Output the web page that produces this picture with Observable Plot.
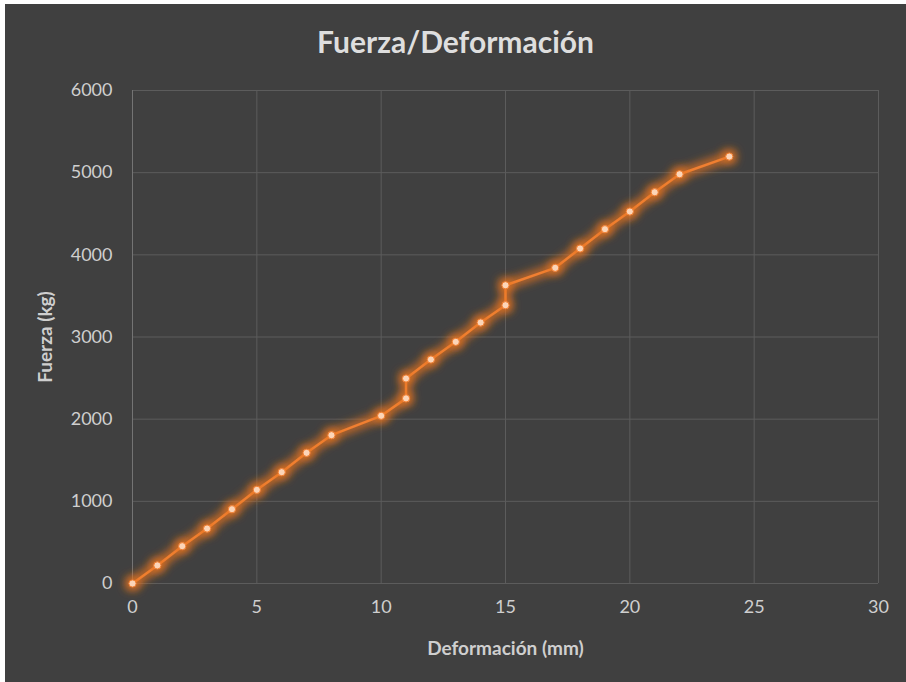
<!DOCTYPE html>
<html>
<head>
<meta charset="utf-8">
<script src="https://cdn.jsdelivr.net/npm/d3@7"></script>
<script src="https://cdn.jsdelivr.net/npm/@observablehq/plot@0.6"></script>
<style>
  html, body { margin: 0; padding: 0; background: #ffffff; }
  #panel {
    position: absolute; left: 5px; top: 4px; width: 901px; height: 678px;
    background: #404040; font-family: Lato, "Open Sans", sans-serif;
  }
  #title {
    height: 70px; box-sizing: border-box; padding-top: 22px;
    text-align: center; color: #dedede; font-size: 30px; font-weight: bold;
    line-height: 30px;
  }
  #chart svg { display: block; }
  g[aria-label="x-axis label"] text, g[aria-label="y-axis label"] text { font-weight: bold; font-size: 19px; }
</style>
</head>
<body>
<div id="panel">
  <div id="title">Fuerza/Deformación</div>
  <div id="chart"></div>
</div>
<script>
const deformacion = [0, 1, 2, 3, 4, 5, 6, 7, 8, 10, 11, 11, 12, 13, 14, 15, 15, 17, 18, 19, 20, 21, 22, 24];
const fuerza = [0, 220, 454, 669, 904, 1140, 1355, 1590, 1805, 2041, 2253, 2495, 2726, 2941, 3176, 3387, 3630, 3842, 4077, 4312, 4527, 4762, 4981, 5196];
const xTicks = [0, 5, 10, 15, 20, 25, 30];
const yTicks = [0, 1000, 2000, 3000, 4000, 5000, 6000];

const data = deformacion.map((d, i) => ({x: d, y: fuerza[i]}));
const orange = "#F07F30";

const plot = Plot.plot({
  width: 901,
  height: 608,
  marginTop: 16,
  marginBottom: 99,
  marginLeft: 127,
  marginRight: 28,
  style: {background: "transparent", color: "#cfcfcf", fontFamily: "Lato, 'Open Sans', sans-serif", fontSize: "18px"},
  x: {domain: [0, 30]},
  y: {domain: [0, 6000]},
  marks: [
    Plot.gridX(xTicks.filter(d => d !== 0), {stroke: "#5c5c5c", strokeOpacity: 1, strokeWidth: 1}),
    Plot.gridY(yTicks, {stroke: "#5c5c5c", strokeOpacity: 1, strokeWidth: 1}),
    Plot.ruleX([0], {stroke: "#747474", strokeWidth: 1}),
    Plot.axisX(xTicks, {tickSize: 0, tickPadding: 17, label: "Deformación (mm)", labelArrow: "none", labelAnchor: "center", labelOffset: 71, fill: "#cfcfcf"}),
    Plot.axisY(yTicks, {tickSize: 0, tickPadding: 20, tickFormat: "d", label: "Fuerza (kg)", labelArrow: "none", labelAnchor: "center", labelOffset: 94, fill: "#cfcfcf"}),
    Plot.line(data, {x: "x", y: "y", stroke: orange, strokeWidth: 2.5}),
    Plot.dot(data, {x: "x", y: "y", r: 3.6, fill: "#fcd5b8", stroke: orange, strokeWidth: 1})
  ]
});

// glow effect (Excel-like outer glow)
const svg = d3.select(plot);
const defs = svg.insert("defs", ":first-child");
const f = defs.append("filter").attr("id", "glow").attr("x", "-20%").attr("y", "-20%").attr("width", "140%").attr("height", "140%");
f.append("feMorphology").attr("in", "SourceAlpha").attr("operator", "dilate").attr("radius", 2.5).attr("result", "dil");
f.append("feGaussianBlur").attr("in", "dil").attr("stdDeviation", 4).attr("result", "blur");
f.append("feFlood").attr("flood-color", "#E8741F").attr("flood-opacity", 0.75).attr("result", "col");
f.append("feComposite").attr("in", "col").attr("in2", "blur").attr("operator", "in").attr("result", "glow");
const m = f.append("feMerge");
m.append("feMergeNode").attr("in", "glow");
m.append("feMergeNode").attr("in", "SourceGraphic");
svg.selectAll('g[aria-label="line"], g[aria-label="dot"]').attr("filter", "url(#glow)");

document.getElementById("chart").appendChild(plot);
</script>
</body>
</html>
